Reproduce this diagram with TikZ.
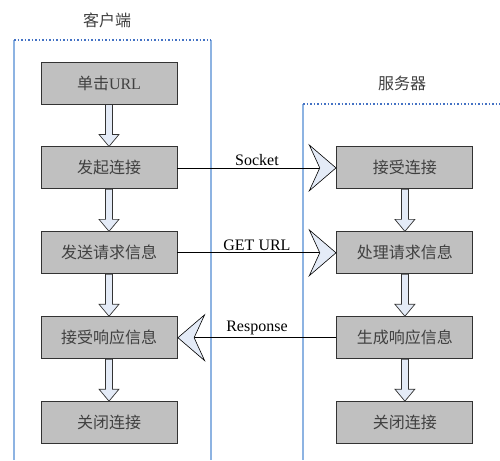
\documentclass[tikz,border=0pt]{standalone}
\usepackage{fontspec}
\setmainfont{Liberation Serif}
\newfontfamily\cjk{Noto Sans CJK SC}
\usepackage{tikz}
\usetikzlibrary{arrows.meta,positioning,calc}
\definecolor{boxFillColor}{HTML}{C0C0C0}
\definecolor{arrowFillColor}{HTML}{E4EBF7}
\definecolor{laneSideColor}{HTML}{8DB3E2}
\definecolor{laneTopColor}{HTML}{4472C4}
\definecolor{boxTextColor}{HTML}{404040}
\tikzset{
  grayBox/.style = {draw=black!80, fill=boxFillColor, line width=0.9pt, minimum width=136pt,
    minimum height=42pt, inner sep=0pt, text=boxTextColor, font=\fontsize{16}{18}\selectfont},% etape du processus
  laneLabel/.style = {font=\fontsize{16}{18}\selectfont\cjk, text=boxTextColor},% titre de colonne
  msgLine/.style = {line width=0.8pt, -{Stealth[length=28pt,width=48pt,inset=11pt,fill=arrowFillColor,line width=0.6pt]}},
  msgLabel/.style = {above, font=\fontsize{16}{18}\selectfont, inner sep=2pt},
  blockArrow/.style = {draw=black!80, fill=arrowFillColor, line width=0.7pt},% fleche creuse
  laneSide/.style = {draw=laneSideColor, line width=1.4pt},
  laneTop/.style = {draw=laneTopColor, line width=1.5pt, dotted},
}
\begin{document}
\begin{tikzpicture}[x=1pt,y=-1pt,node distance=42pt]
\useasboundingbox (0,0) rectangle (500,460);
% colonnes
\draw[laneSide] (14,40) -- (14,460);
\draw[laneSide] (211,40) -- (211,460);
\draw[laneTop] (14,40) -- (211,40);
\draw[laneSide] (303,104) -- (303,460);
\draw[laneTop] (303,104) -- (500,104);
\node[laneLabel] (clientLabel) at (107,20) {客户端};
\node[laneLabel] (serverLabel) at (402,83) {服务器};
% client
\node[grayBox] (c1) at (109,83) {{\cjk 单击}URL};
\node[grayBox, below=of c1] (c2) {\cjk 发起连接};
\node[grayBox, below=of c2] (c3) {\cjk 发送请求信息};
\node[grayBox, below=of c3] (c4) {\cjk 接受响应信息};
\node[grayBox, below=of c4] (c5) {\cjk 关闭连接};
% serveur
\node[grayBox, right=159pt of c2] (s1) {\cjk 接受连接};
\node[grayBox, below=of s1] (s2) {\cjk 处理请求信息};
\node[grayBox, below=of s2] (s3) {\cjk 生成响应信息};
\node[grayBox, below=of s3] (s4) {\cjk 关闭连接};
% fleches entre etapes
\foreach \a/\b in {c1/c2, c2/c3, c3/c4, c4/c5, s1/s2, s2/s3, s3/s4}
  \draw[blockArrow] ($(\a.south)+(-3.5,0)$) -- ($(\b.north)+(-3.5,-12)$) -- ($(\b.north)+(-10,-12)$)
    -- (\b.north) -- ($(\b.north)+(10,-12)$) -- ($(\b.north)+(3.5,-12)$) -- ($(\a.south)+(3.5,0)$) -- cycle;
% messages
\draw[msgLine] (c2.east) -- node[msgLabel] {Socket} (s1.west);
\draw[msgLine] (c3.east) -- node[msgLabel] {GET URL} (s2.west);
\draw[msgLine] (s3.west) -- node[msgLabel] {Response} (c4.east);
\end{tikzpicture}
\end{document}
